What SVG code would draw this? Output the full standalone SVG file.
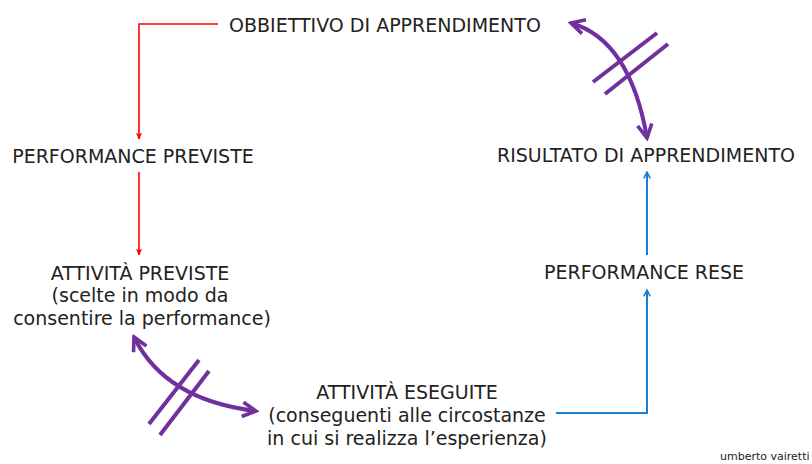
<svg xmlns="http://www.w3.org/2000/svg" width="812" height="464" viewBox="0 0 812 464">
<defs>
<style>
text{font-family:"DejaVu Sans",Verdana,sans-serif;font-size:19px;fill:#222;text-anchor:middle}
.red{stroke:#f00;stroke-width:1.6;fill:none}
.blue{stroke:#1a7fd4;stroke-width:2;fill:none}
.pur{stroke:#7030a0;stroke-width:4;fill:none}
</style>
<marker id="ar" viewBox="0 0 10 10" refX="9" refY="5" markerWidth="7" markerHeight="7" markerUnits="userSpaceOnUse" orient="auto"><path d="M1,1.5 L9,5 L1,8.5 L3,5 Z" fill="#f00" stroke="#f00" stroke-width="1"/></marker>
<marker id="ab" viewBox="0 0 10 10" refX="9" refY="5" markerWidth="8" markerHeight="8" markerUnits="userSpaceOnUse" orient="auto"><path d="M1,1 L9,5 L1,9" fill="none" stroke="#1a7fd4" stroke-width="2"/></marker>
<marker id="ap" viewBox="0 0 10 10" refX="8.5" refY="5" markerWidth="18" markerHeight="18" markerUnits="userSpaceOnUse" orient="auto-start-reverse"><path d="M1,1 L8.5,5 L1,9" fill="none" stroke="#7030a0" stroke-width="2"/></marker>
</defs>
<g id="connectors">
<path class="red" d="M218,24 H139 V139" marker-end="url(#ar)"/>
<path class="red" d="M139,172 V255" marker-end="url(#ar)"/>
<path class="blue" d="M647,255 V172" marker-end="url(#ab)"/>
<path class="blue" d="M556,413 H647 V290" marker-end="url(#ab)"/>
<path class="pur" d="M571,23 Q630,40 647,138" marker-start="url(#ap)" marker-end="url(#ap)"/>
<path class="pur" d="M593,82 L657,33 M605,94 L668,44"/>
<path class="pur" d="M134,337 Q165,400 256,411" marker-start="url(#ap)" marker-end="url(#ap)"/>
<path class="pur" d="M149,424 L199,360 M160,435 L209,371"/>
</g>
<g id="obbiettivo"><text x="385" y="32">OBBIETTIVO DI APPRENDIMENTO</text></g>
<g id="performance-previste"><text x="133" y="163">PERFORMANCE PREVISTE</text></g>
<g id="attivita-previste"><text x="140" y="280">ATTIVITÀ PREVISTE</text><text x="140" y="302">(scelte in modo da</text><text x="142" y="325">consentire la performance)</text></g>
<g id="risultato"><text x="646" y="162">RISULTATO DI APPRENDIMENTO</text></g>
<g id="performance-rese"><text x="644" y="279">PERFORMANCE RESE</text></g>
<g id="attivita-eseguite"><text x="407" y="399">ATTIVITÀ ESEGUITE</text><text x="407" y="422">(conseguenti alle circostanze</text><text x="407" y="445">in cui si realizza l’esperienza)</text></g>
<g id="author"><text x="720" y="460" style="font-size:11px;text-anchor:start">umberto vairetti</text></g>
</svg>
